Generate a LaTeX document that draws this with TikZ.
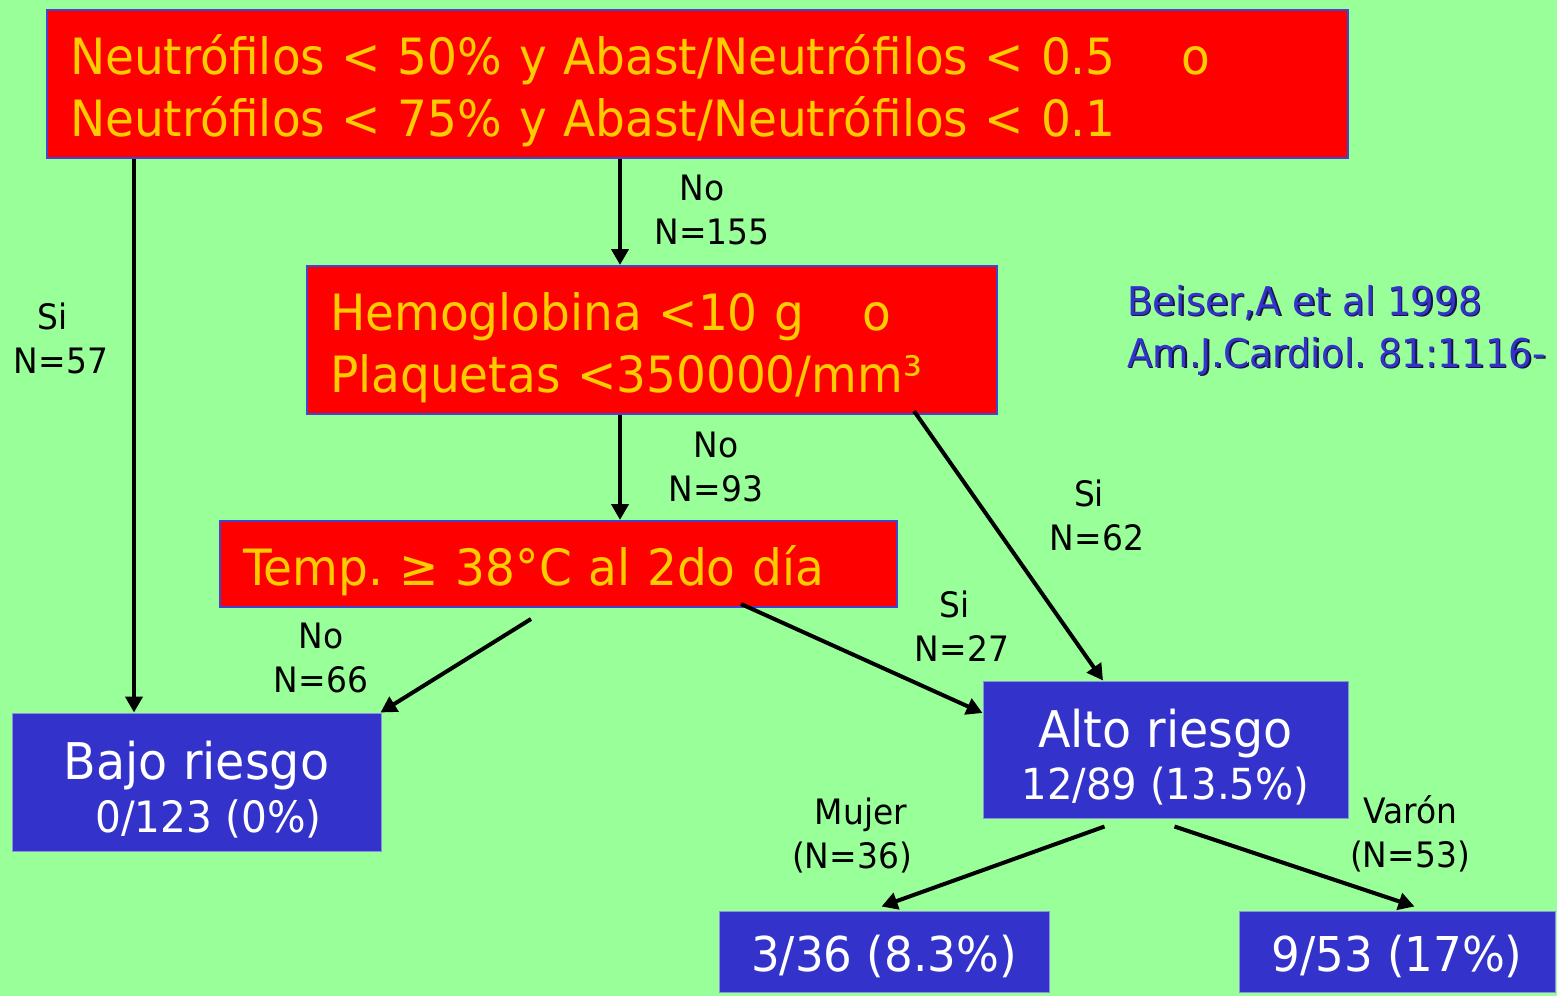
\documentclass[tikz,border=0pt]{standalone}
\usepackage{fontspec}
\setmainfont{DejaVu Sans}[FakeStretch=0.94]
\usetikzlibrary{arrows.meta,calc}
\frenchspacing
\definecolor{bg}{RGB}{153,255,153}
\definecolor{rbox}{RGB}{255,0,0}
\definecolor{ytext}{RGB}{255,204,0}
\definecolor{bbox}{RGB}{51,51,204}
\definecolor{bord}{RGB}{68,68,204}
\definecolor{shadowc}{RGB}{20,20,60}
\newcommand{\dn}[2]{\raisebox{-#1}[\height][\depth]{#2}}
\tikzset{
  redbox/.style={draw=bord, line width=1pt, fill=rbox, text=ytext, align=left,
    inner ysep=0pt, inner xsep=11.5pt, font=\fontsize{25}{31}\selectfont},
  bluebox/.style={draw=bord!60, line width=0.5pt, fill=bbox, text=white, align=center,
    inner sep=0pt},
  arr/.style={line width=2pt, -{Triangle[length=8pt,width=8.5pt]}},
  lbl/.style={font=\fontsize{17.5}{22}\selectfont, align=center, inner sep=0pt},
  cite/.style={font=\fontsize{19.8}{26}\selectfont, align=left, inner sep=0pt, anchor=west}
}
\begin{document}
\begin{tikzpicture}[x=0.5pt,y=-0.5pt]
\fill[bg] (0,0) rectangle (1557,996);
\useasboundingbox (0,0) rectangle (1557,996);

% boxes
\node[redbox, text width=627.5pt, minimum height=74pt] (b1) at (697.5,84)
  {\dn{3.5pt}{Neutrófilos < 50\% y Abast/Neutrófilos < 0.5\hspace{33pt}o}\\
   \dn{3.5pt}{Neutrófilos < 75\% y Abast/Neutrófilos < 0.1}};
\node[redbox, text width=322pt, minimum height=74pt] (b2) at (652,340)
  {\dn{4pt}{Hemoglobina <10 g\hspace{29pt}o}\\\dn{4pt}{Plaquetas <350000/mm³}};
\node[redbox, text width=315.5pt, minimum height=43pt] (b3) at (558.5,564)
  {\dn{3.5pt}{Temp. ≥ 38°C al 2do día}};

\node[bluebox, minimum width=184.5pt, minimum height=69pt] (bajo) at (196.5,782)
  {\dn{4pt}{\fontsize{25.3}{28}\selectfont Bajo riesgo}\\[4pt]\dn{3.5pt}{\fontsize{21.6}{26}\selectfont\hspace{12pt}0/123 (0\%)}};
\node[bluebox, minimum width=182.5pt, minimum height=68.5pt] (alto) at (1165.5,749.5)
  {\dn{4pt}{\fontsize{25.3}{28}\selectfont Alto riesgo}\\[4pt]\dn{3.5pt}{\fontsize{21.4}{26}\selectfont 12/89 (13.5\%)}};
\node[bluebox, minimum width=165pt, minimum height=40.5pt, font=\fontsize{24}{26}\selectfont] (muj) at (884,951.5)
  {\dn{2.5pt}{3/36 (8.3\%)}};
\node[bluebox, minimum width=158pt, minimum height=40.5pt, font=\fontsize{24}{26}\selectfont] (var) at (1397,951.5)
  {\dn{2.5pt}{9/53 (17\%)}};

% connectors
\draw[arr] (b1.south -| 134,0) -- (bajo.north -| 134,0);
\draw[arr] (b1.south -| 620,0) -- (b2.north -| 620,0);
\draw[arr] (b2.south -| 620,0) -- (b3.north -| 620,0);
\draw[arr] ($(b2.south west)+(608,-4)$) -- (alto.north -| 1103,0);
\coordinate (c5) at ($(b3.south west)+(312,11)$);
\draw[arr] (c5) -- ($(bajo.north east)+(-1,0)$);
\draw[arr] ($(b3.south west)+(522,-4)$) -- (alto.west |- 0,713);
\coordinate (c7) at ($(alto.south west)+(122,8)$);
\draw[arr] (c7) -- ($(muj.north west)+(163,-4)$);
\coordinate (c8) at ($(alto.south west)+(192,8)$);
\draw[arr] (c8) -- ($(var.north west)+(176,-4)$);

% labels
\node[lbl] (l1) at (61,338) {\hspace*{-8pt}Si\\N=57};
\node[lbl] (l2) at (712,210) {\hspace*{-10pt}No\\N=155};
\node[lbl] (l3) at (716,467) {No\\N=93};
\node[lbl] (l4) at (1097,515) {\hspace*{-8pt}Si\\N=62};
\node[lbl] (l5) at (321,658) {No\\N=66};
\node[lbl] (l6) at (962,626) {\hspace*{-7pt}Si\\N=27};
\node[lbl] (l7) at (852,835) {\hspace*{9pt}Mujer\\(N=36)};
\node[lbl] (l8) at (1410,834) {Varón\\(N=53)};

% citation
\node[cite, text=shadowc] (cs) at (1128.5,331.5) {Beiser,A et al 1998\\Am.J.Cardiol. 81:1116-};
\node[cite, text=bbox] (ct) at (1127,330) {Beiser,A et al 1998\\Am.J.Cardiol. 81:1116-};
\end{tikzpicture}
\end{document}
